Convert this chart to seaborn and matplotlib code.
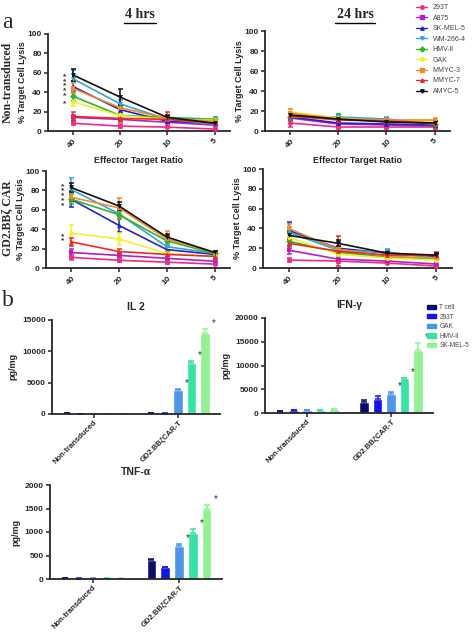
import numpy as np
import pandas as pd
import seaborn as sns
from matplotlib import pyplot as plt
from matplotlib.lines import Line2D
from matplotlib.patches import Patch

sns.set_style("ticks")
plt.rcParams["font.family"] = ["Liberation Sans", "DejaVu Sans"]
plt.rcParams["font.weight"] = "bold"
SERIF = ["Liberation Serif", "DejaVu Serif"]

# ---- data -------------------------------------------------------------
ratios = ["40", "20", "10", "5"]
lines = ["293T", "A875", "SK-MEL-5", "WM-266-4", "HMV-Ⅱ", "GAK", "MMYC-3", "MMYC-7", "AMYC-5"]

nt_4h = {
    "293T": [8, 5, 4, 2], "A875": [14, 12, 9, 6], "SK-MEL-5": [46, 22, 10, 8],
    "WM-266-4": [54, 28, 12, 7], "HMV-Ⅱ": [36, 16, 14, 12], "GAK": [30, 16, 12, 11],
    "MMYC-3": [44, 24, 13, 10], "MMYC-7": [15, 13, 12, 8], "AMYC-5": [58, 35, 14, 8],
}
nt_4h_err = {
    "293T": [2, 2, 1, 1], "A875": [3, 2, 2, 1], "SK-MEL-5": [6, 3, 2, 2],
    "WM-266-4": [9, 4, 3, 2], "HMV-Ⅱ": [5, 2, 2, 2], "GAK": [4, 2, 2, 1],
    "MMYC-3": [5, 3, 3, 2], "MMYC-7": [5, 4, 8, 2], "AMYC-5": [6, 8, 3, 2],
}
nt_24h = {
    "293T": [8, 4, 4, 4], "A875": [13, 7, 6, 5], "SK-MEL-5": [14, 8, 7, 6],
    "WM-266-4": [15, 14, 12, 7], "HMV-Ⅱ": [14, 13, 10, 7], "GAK": [19, 13, 10, 9],
    "MMYC-3": [18, 12, 11, 11], "MMYC-7": [15, 11, 10, 8], "AMYC-5": [16, 12, 9, 8],
}
nt_24h_err = {
    "293T": [4, 2, 2, 2], "A875": [3, 2, 2, 2], "SK-MEL-5": [3, 2, 2, 2],
    "WM-266-4": [3, 3, 2, 2], "HMV-Ⅱ": [3, 4, 2, 2], "GAK": [3, 2, 2, 2],
    "MMYC-3": [4, 2, 2, 2], "MMYC-7": [3, 2, 2, 2], "AMYC-5": [3, 2, 2, 2],
}
car_4h = {
    "293T": [11, 8, 6, 4], "A875": [16, 13, 10, 7], "SK-MEL-5": [71, 44, 19, 14],
    "WM-266-4": [81, 56, 22, 15], "HMV-Ⅱ": [71, 55, 28, 15], "GAK": [36, 30, 15, 12],
    "MMYC-3": [73, 62, 30, 16], "MMYC-7": [27, 17, 14, 12], "AMYC-5": [83, 64, 32, 16],
}
car_4h_err = {
    "293T": [3, 2, 2, 1], "A875": [4, 2, 2, 1], "SK-MEL-5": [8, 7, 3, 2],
    "WM-266-4": [12, 5, 4, 2], "HMV-Ⅱ": [5, 4, 4, 2], "GAK": [8, 6, 3, 2],
    "MMYC-3": [5, 10, 8, 2], "MMYC-7": [4, 3, 2, 2], "AMYC-5": [5, 4, 3, 2],
}
car_24h = {
    "293T": [8, 7, 5, 2], "A875": [18, 9, 7, 4], "SK-MEL-5": [38, 20, 15, 11],
    "WM-266-4": [36, 18, 16, 10], "HMV-Ⅱ": [27, 16, 11, 9], "GAK": [31, 14, 10, 8],
    "MMYC-3": [40, 19, 12, 10], "MMYC-7": [25, 17, 13, 13], "AMYC-5": [33, 25, 15, 13],
}
car_24h_err = {
    "293T": [2, 2, 1, 1], "A875": [4, 2, 2, 1], "SK-MEL-5": [8, 5, 3, 2],
    "WM-266-4": [5, 4, 3, 2], "HMV-Ⅱ": [4, 3, 2, 2], "GAK": [4, 3, 2, 2],
    "MMYC-3": [4, 3, 2, 2], "MMYC-7": [5, 15, 2, 3], "AMYC-5": [4, 3, 2, 2],
}
# significance clusters at E:T 40 (one column of stars per cluster)
nt_4h_stars = [["AMYC-5", "WM-266-4", "SK-MEL-5", "MMYC-3", "HMV-Ⅱ"], ["GAK"]]
car_4h_stars = [["AMYC-5", "WM-266-4", "MMYC-3", "SK-MEL-5", "HMV-Ⅱ"], ["GAK", "MMYC-7"]]

groups = ["Non-transduced", "GD2.BBζCAR-T"]
cells = ["T cell", "293T", "GAK", "HMV-Ⅱ", "SK-MEL-5"]
il2 = [[100, 50, 30, 40, 30], [100, 60, 3800, 8100, 13000]]
il2_err = [[30, 20, 20, 20, 20], [30, 20, 150, 300, 500]]
ifng = [[400, 600, 650, 550, 750], [2400, 3000, 4100, 7300, 13300]]
ifng_err = [[80, 100, 80, 60, 80], [300, 600, 400, 150, 1400]]
tnfa = [[15, 10, 8, 10, 8], [400, 250, 710, 970, 1490]]
tnfa_err = [[5, 3, 3, 3, 3], [30, 10, 40, 90, 80]]
starred = ["GAK", "HMV-Ⅱ", "SK-MEL-5"]

# ---- styling ----------------------------------------------------------
line_colors = ["#ee2a8a", "#b21fc4", "#2424c8", "#34a4d4", "#2cb42c",
               "#f2f22a", "#f08a2a", "#ea2a2a", "#111111"]
line_markers = ["o", "s", "^", "v", "D", "o", "s", "^", "v"]
palette = dict(zip(lines, line_colors))
markers = dict(zip(lines, line_markers))
bar_palette = dict(zip(cells, ["#0c0c6c", "#1414f0", "#4c94ec", "#34e4a4", "#90f290"]))

fig = plt.figure(figsize=(4.72, 6.35), dpi=100)


def style_axes(ax):
    sns.despine(ax=ax)
    for s in ("left", "bottom"):
        ax.spines[s].set_linewidth(1.3)
    ax.tick_params(width=1.1, length=3, labelsize=6, pad=1.5)
    for t in ax.get_xticklabels() + ax.get_yticklabels():
        t.set_fontweight("bold")


def lysis_panel(rect, means, errs, stars=(), xlabel=True):
    ax = fig.add_axes(rect)
    rows = []
    for name in lines:
        for i, r in enumerate(ratios):
            rows.append({"pos": i, "ratio": r, "line": name, "lysis": means[name][i]})
    df = pd.DataFrame(rows)
    for name in lines:
        ax.errorbar(range(len(ratios)), means[name], yerr=errs[name], fmt="none",
                    ecolor=palette[name], elinewidth=1.1, capsize=1.8, capthick=1.1, zorder=2)
    sns.lineplot(data=df, x="pos", y="lysis", hue="line", style="line", palette=palette,
                 markers=markers, dashes=False, linewidth=1.2, markersize=3.5,
                 markeredgewidth=0, legend=False, ax=ax, zorder=3)
    for cluster in stars:
        yc = np.mean([means[n][0] for n in cluster])
        ax.annotate("\n".join("*" * len(cluster)), (0, yc), xytext=(-6, -1),
                    textcoords="offset points", ha="center", va="center",
                    fontsize=6, linespacing=0.55, color="#333333")
    ax.set_xlim(-0.52, 3.32)
    ax.set_ylim(0, 100)
    ax.set_xticks(range(len(ratios)))
    ax.set_xticklabels(ratios, rotation=45, ha="center")
    ax.set_yticks(range(0, 101, 20))
    ax.set_ylabel("% Target Cell Lysis", fontsize=6.5, fontweight="bold", labelpad=0.5)
    ax.set_xlabel("Effector Target Ratio" if xlabel else "", fontsize=6.5,
                  fontweight="bold", labelpad=5)
    style_axes(ax)
    return ax


def cytokine_panel(rect, values, errs, title, ymax, step):
    ax = fig.add_axes(rect)
    rows = []
    for g, grp in enumerate(groups):
        for c, cell in enumerate(cells):
            rows.append({"group": grp, "cell": cell, "value": values[g][c]})
    df = pd.DataFrame(rows)
    sns.barplot(data=df, x="group", y="value", hue="cell", palette=bar_palette,
                gap=0.28, saturation=1, errorbar=None, legend=False, ax=ax)
    bar_sets = list(ax.containers)
    for c, cont in enumerate(bar_sets):
        for g, bar in enumerate(cont):
            xc = bar.get_x() + bar.get_width() / 2
            top = values[g][c] + errs[g][c]
            ax.errorbar(xc, values[g][c], yerr=[[0], [errs[g][c]]], fmt="none",
                        ecolor=bar_palette[cells[c]], elinewidth=1.1, capsize=2, capthick=1.1)
            if g == 1 and cells[c] in starred:
                ax.text(xc + bar.get_width() * 0.9, top + ymax * 0.01, "*",
                        fontsize=7, ha="center", va="bottom", color="#333333",
                        fontweight="normal")
    ax.set_ylim(0, ymax)
    ax.set_yticks(np.arange(0, ymax + 1, step))
    ax.set_xlim(-0.5, 1.5)
    ax.set_xticks(range(len(groups)))
    ax.set_xticklabels(groups, rotation=45, ha="right", rotation_mode="anchor")
    ax.set_xlabel("")
    ax.set_ylabel("pg/mg", fontsize=6.5, fontweight="bold", labelpad=3)
    ax.set_title(title, fontsize=7.5, fontweight="bold", pad=7)
    style_axes(ax)
    ax.tick_params(axis="x", labelsize=5.5, pad=0.5)
    return ax


W, H = 472, 635


def rect(left, right, top, bottom):
    return [left / W, 1 - bottom / H, (right - left) / W, (bottom - top) / H]


lysis_panel(rect(48, 230, 34, 131), nt_4h, nt_4h_err, nt_4h_stars)
lysis_panel(rect(265, 450, 31, 131), nt_24h, nt_24h_err)
lysis_panel(rect(46, 230, 171, 268), car_4h, car_4h_err, car_4h_stars, xlabel=False)
lysis_panel(rect(263, 452, 169, 268), car_24h, car_24h_err, xlabel=False)

cytokine_panel(rect(52, 220, 320, 414), il2, il2_err, "IL 2", 15000, 5000)
cytokine_panel(rect(265, 433, 318, 413), ifng, ifng_err, "IFN-γ", 20000, 5000)
cytokine_panel(rect(50, 222, 485, 579), tnfa, tnfa_err, "TNF-α", 2000, 500)

# headings and panel letters
fig.text(140 / W, 1 - 15 / H, "4 hrs", family=SERIF, fontsize=10, fontweight="bold",
         ha="center", va="center")
fig.text(355 / W, 1 - 15 / H, "24 hrs", family=SERIF, fontsize=10, fontweight="bold",
         ha="center", va="center")
fig.add_artist(Line2D([124 / W, 156 / W], [1 - 23 / H] * 2, color="black", lw=1))
fig.add_artist(Line2D([335 / W, 375 / W], [1 - 23 / H] * 2, color="black", lw=1))
fig.text(2 / W, 1 - 22 / H, "a", family=SERIF, fontsize=17, va="center", fontweight="normal")
fig.text(2 / W, 1 - 300 / H, "b", family=SERIF, fontsize=17, va="center", fontweight="normal")
fig.text(8 / W, 1 - 82 / H, "Non-transduced", family=SERIF, fontsize=8.5, fontweight="bold",
         rotation=90, ha="center", va="center")
fig.text(8 / W, 1 - 218 / H, "GD2.BBζ CAR", family=SERIF, fontsize=8.5,
         fontweight="bold", rotation=90, ha="center", va="center")

# legends
lh = [Line2D([], [], color=palette[n], marker=markers[n], markersize=2.5, lw=1) for n in lines]
fig.legend(lh, lines, loc="upper left", bbox_to_anchor=(412 / W, 1 - 0 / H), frameon=False,
           prop={"size": 5, "weight": "normal"}, handlelength=1.6, labelspacing=0.5,
           handletextpad=0.8, labelcolor="#444444", borderpad=0.1)
bh = [Patch(color=bar_palette[c]) for c in cells]
fig.legend(bh, cells, loc="upper left", bbox_to_anchor=(423 / W, 1 - 300 / H), frameon=False,
           prop={"size": 4.7, "weight": "normal"}, handlelength=1.4, handleheight=0.6,
           labelspacing=0.4, handletextpad=0.5, labelcolor="#444444", borderpad=0.1)

fig.savefig("out.png", dpi=100)
